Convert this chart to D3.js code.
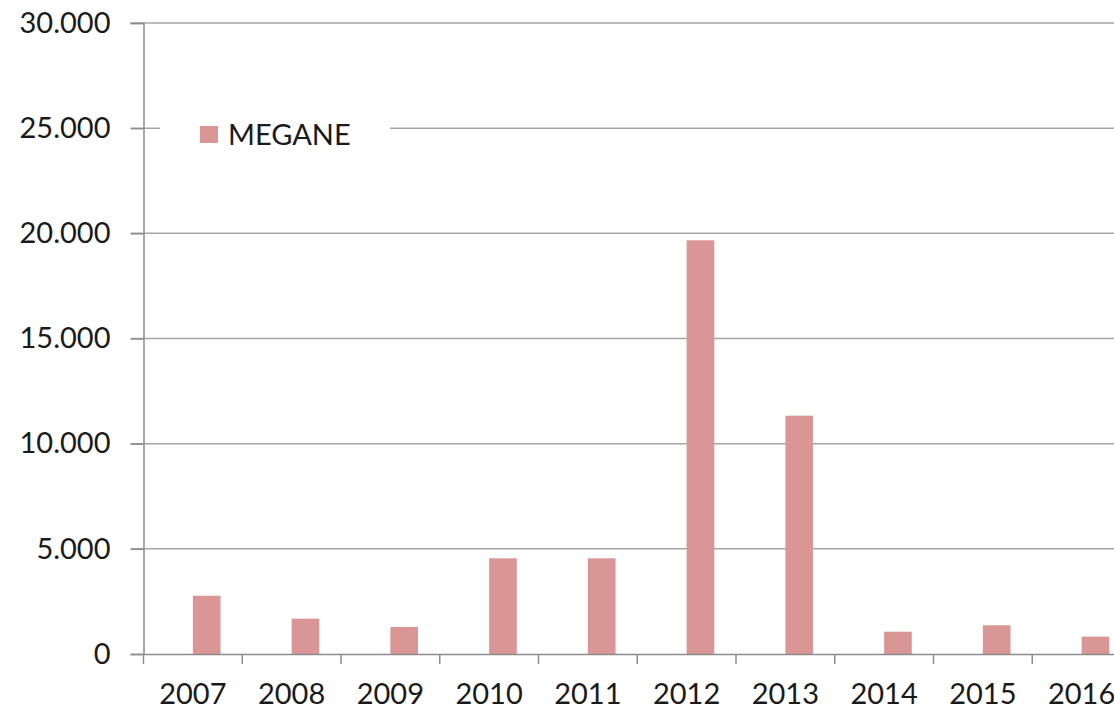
<!DOCTYPE html>
<html lang="en">
<head>
  <meta charset="UTF-8">
  <title>MEGANE</title>
  <script src="https://d3js.org/d3.v7.min.js"></script>
  <style>
    body {
      margin: 0;
      background: #fff;
      overflow: hidden;
    }
    svg text {
      font-family: 'Lato', sans-serif;
      font-size: 29px;
      fill: #1a1a1a;
    }
  </style>
</head>
<body>
  <svg width="1114" height="711"></svg>

  <script>
    // data
    const years = ['2007', '2008', '2009', '2010', '2011', '2012', '2013', '2014', '2015', '2016'];
    const megane = [2770, 1680, 1285, 4550, 4550, 19670, 11330, 1060, 1365, 825];
    const yTicks = [0, 5000, 10000, 15000, 20000, 25000, 30000];
    const seriesName = 'MEGANE';

    const width = 1114, height = 711;
    const plotLeft = 143.5, plotRight = 1131, plotTop = 23, plotBottom = 654;

    const svg = d3.select('svg');

    const fmt = d3.formatLocale({ decimal: ',', thousands: '.', grouping: [3], currency: ['', ''] }).format(',d');

    const x = d3.scaleBand()
      .domain(years)
      .range([plotLeft, plotRight])
      .padding(0);

    const y = d3.scaleLinear()
      .domain([0, 30000])
      .range([plotBottom, plotTop]);

    // gridlines
    svg.append('g')
      .selectAll('line')
      .data(yTicks.slice(1))
      .enter().append('line')
      .attr('x1', 131)
      .attr('x2', width)
      .attr('y1', d => y(d))
      .attr('y2', d => y(d))
      .attr('stroke', '#a6a6a6')
      .attr('stroke-width', 1.5);

    // y axis
    const yAxis = svg.append('g')
      .attr('transform', `translate(${plotLeft},0)`)
      .call(d3.axisLeft(y).tickValues(yTicks).tickSize(13).tickPadding(20).tickFormat(fmt));
    yAxis.select('.domain').attr('stroke', '#8c8c8c').attr('stroke-width', 1.5);
    yAxis.selectAll('.tick line').attr('stroke', '#8c8c8c').attr('stroke-width', 1.5);
    yAxis.selectAll('text').attr('font-size', null).attr('font-family', null).attr('fill', '#1a1a1a');

    // bars (the series sits in the right half of each category)
    svg.append('g')
      .selectAll('rect')
      .data(years.map((yr, i) => ({ year: yr, value: megane[i] })))
      .enter().append('rect')
      .attr('x', d => x(d.year) + x.bandwidth() * 0.5)
      .attr('y', d => y(d.value))
      .attr('width', x.bandwidth() * 0.28)
      .attr('height', d => plotBottom - y(d.value))
      .attr('fill', '#d99694');

    // x axis
    const xAxis = svg.append('g')
      .attr('transform', `translate(0,${plotBottom})`)
      .call(d3.axisBottom(x).tickSize(0).tickPadding(29));
    xAxis.select('.domain').attr('stroke', '#8c8c8c').attr('stroke-width', 1.5);
    xAxis.selectAll('text').attr('font-size', null).attr('font-family', null).attr('fill', '#1a1a1a');

    // category boundary ticks
    svg.append('g')
      .selectAll('line')
      .data(years)
      .enter().append('line')
      .attr('x1', d => x(d))
      .attr('x2', d => x(d))
      .attr('y1', plotBottom)
      .attr('y2', plotBottom + 10)
      .attr('stroke', '#8c8c8c')
      .attr('stroke-width', 1.5);

    // legend
    const legend = svg.append('g');
    legend.append('rect')
      .attr('x', 160).attr('y', 110)
      .attr('width', 230).attr('height', 50)
      .attr('fill', '#fff');
    legend.append('rect')
      .attr('x', 200).attr('y', 126)
      .attr('width', 18).attr('height', 17)
      .attr('fill', '#d99694');
    legend.append('text')
      .attr('x', 228).attr('y', 145)
      .text(seriesName);
  </script>
</body>
</html>
